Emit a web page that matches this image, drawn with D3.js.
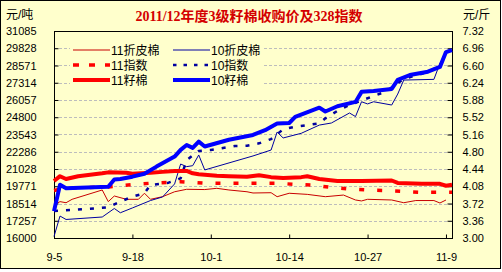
<!DOCTYPE html>
<html>
<head>
<meta charset="utf-8">
<script src="https://cdn.jsdelivr.net/npm/d3@7"></script>
<style>
  body { margin: 0; background: #fff; }
  text { font-family: "Liberation Sans", "Noto Sans CJK SC", sans-serif; }
</style>
</head>
<body>
<svg width="502" height="272"></svg>
<script>

// 元/吨 (left axis) series, [date, value]
const lint11 = [["9-5",18410],["9-6",18650],["9-7",18570],["9-8",18820],["9-13",19500],["9-14",18650],["9-15",19060],["9-17",18820],["9-19",18820],["9-20",19260],["9-21",18820],["9-23",19010],["9-25",19370],["9-27",19550],["9-30",19530],["10-2",19620],["10-4",19500],["10-7",19370],["10-8",19280],["10-11",19300],["10-12",19010],["10-14",19260],["10-17",19180],["10-20",19010],["10-23",19130],["10-25",18770],["10-26",18700],["10-27",18820],["10-31",18770],["11-2",18570],["11-4",18730],["11-7",18730],["11-8",18550],["11-9",18770]];
const lint10 = [["9-5",16110],["9-6",17600],["9-7",17350],["9-13",17530],["9-15",18150],["9-16",17840],["9-18",18190],["9-21",18730],["9-23",18990],["9-25",19940],["9-26",21390],["9-27",21200],["9-28",21270],["9-29",22050],["9-30",20960],["10-8",21980],["10-11",22410],["10-12",23720],["10-13",23290],["10-16",23630],["10-19",24230],["10-21",24380],["10-24",25110],["10-25",24850],["10-26",25930],["10-27",25770],["10-28",25930],["10-31",25690],["11-1",26490],["11-2",27510],["11-7",27560],["11-8",28730],["11-9",29460],["11-10",29700]];
const index11 = [["9-5",19460],["9-7",19640],["9-14",19720],["9-18",19900],["9-21",19990],["9-26",20100],["9-30",19990],["10-12",19990],["10-15",19910],["10-18",19860],["10-21",19680],["10-24",19570],["10-27",19500],["10-30",19460],["11-2",19390],["11-5",19330],["11-10",19330]];
const index10 = [["9-5",17970],["9-8",18040],["9-12",18160],["9-14",18240],["9-16",18650],["9-18",19010],["9-20",19260],["9-21",19860],["9-24",20030],["9-26",20350],["9-27",21680],["9-29",22340],["10-1",22410],["10-5",22700],["10-7",22730],["10-9",22900],["10-11",23210],["10-13",23920],["10-15",24110],["10-17",24230],["10-19",24360],["10-20",24720],["10-22",25260],["10-24",25690],["10-28",26350],["10-30",26660],["11-2",27590],["11-6",28100],["11-8",28530],["11-9",29550],["11-10",29700]];

// 元/斤 (right axis) series
const seed11 = [["9-5",4.19],["9-6",4.29],["9-7",4.23],["9-9",4.29],["9-13",4.35],["9-14",4.37],["9-17",4.36],["9-18",4.34],["9-21",4.36],["9-23",4.38],["9-25",4.40],["9-27",4.40],["9-28",4.35],["9-29",4.33],["10-2",4.30],["10-4",4.29],["10-7",4.28],["10-9",4.31],["10-11",4.27],["10-13",4.25],["10-16",4.27],["10-17",4.29],["10-19",4.23],["10-22",4.19],["10-26",4.19],["10-31",4.20],["11-1",4.15],["11-5",4.13],["11-8",4.13],["11-9",4.09],["11-10",4.11]];
const seed10 = [["9-5",3.56],["9-6",4.11],["9-7",4.04],["9-14",4.07],["9-15",4.22],["9-16",4.23],["9-18",4.28],["9-20",4.34],["9-22",4.49],["9-25",4.70],["9-26",4.84],["9-27",4.94],["9-28",4.88],["9-29",5.01],["9-30",4.91],["10-4",5.05],["10-8",5.15],["10-10",5.25],["10-12",5.39],["10-14",5.40],["10-15",5.53],["10-19",5.72],["10-20",5.64],["10-22",5.75],["10-25",5.84],["10-26",6.05],["10-28",6.07],["10-31",6.11],["11-1",6.30],["11-3",6.40],["11-6",6.47],["11-8",6.57],["11-9",6.88],["11-10",6.92]];

const leftTicks = ["16000","17257","18514","19771","21028","22286","23543","24800","26057","27314","28571","29828","31085"];
const rightTicks = ["3.00","3.36","3.72","4.08","4.44","4.80","5.16","5.52","5.88","6.24","6.60","6.96","7.32"];
const dateTicks = ["9-5","9-18","10-1","10-14","10-27","11-9"];

const parse = s => { const [m, d] = s.split('-'); return new Date(2011, +m - 1, +d); };

const svg = d3.select('svg');
const pLeft = 54, pRight = 452, pTop = 31, pBottom = 238;

// background + outer frame
svg.append('rect')
    .attr('x', 0.5).attr('y', 0.5).attr('width', 500).attr('height', 268)
    .attr('fill', '#ffffcc').attr('stroke', '#000');

const x = d3.scaleTime().domain([parse('9-5'), parse('11-10')]).range([pLeft, pRight]);
const yL = d3.scaleLinear().domain([16000, 31085]).range([pBottom, pTop]);
const yR = d3.scaleLinear().domain([3, 7.32]).range([pBottom, pTop]);

// gridlines
svg.append('g').selectAll('line')
    .data(leftTicks.slice(1, -1))
    .enter().append('line')
        .attr('x1', pLeft).attr('x2', pRight)
        .attr('y1', d => Math.round(yL(+d)) + 0.5)
        .attr('y2', d => Math.round(yL(+d)) + 0.5)
        .attr('stroke', '#bdbdbd').attr('stroke-dasharray', '3,2');

// axes
const gl = svg.append('g').attr('transform', `translate(${pLeft + 0.5},0)`)
    .call(d3.axisLeft(yL).tickValues(leftTicks.map(Number)).tickFormat((d, i) => leftTicks[i]).tickSize(-4).tickPadding(18));
const gr = svg.append('g').attr('transform', `translate(${pRight + 0.5},0)`)
    .call(d3.axisRight(yR).tickValues(rightTicks.map(Number)).tickFormat((d, i) => rightTicks[i]).tickSize(-5).tickPadding(10));
const gb = svg.append('g').attr('transform', `translate(0,${pBottom + 0.5})`)
    .call(d3.axisBottom(x).tickValues(dateTicks.map(parse)).tickFormat((d, i) => dateTicks[i]).tickSize(-4).tickPadding(15));

[gl, gr, gb].forEach(g => {
    g.select('.domain').remove();
    g.selectAll('text').attr('font-size', 11).attr('fill', '#000')
        .style('font-family', '"Liberation Sans", sans-serif');
    g.selectAll('line').attr('stroke', '#000');
});

// plot frame
svg.append('rect')
    .attr('x', pLeft + 0.5).attr('y', pTop + 0.5)
    .attr('width', pRight - pLeft).attr('height', pBottom - pTop)
    .attr('fill', 'none').attr('stroke', '#000');

// series
const series = [
    {name: '11折皮棉', data: lint11, y: yL, stroke: '#c80000', width: 1, dash: null},
    {name: '10折皮棉', data: lint10, y: yL, stroke: '#0000a0', width: 1, dash: null},
    {name: '11指数', data: index11, y: yL, stroke: '#ff0000', width: 3.5, dash: '5,13'},
    {name: '10指数', data: index10, y: yL, stroke: '#0000a0', width: 2.5, dash: '4,8'},
    {name: '11籽棉', data: seed11, y: yR, stroke: '#ff0000', width: 4, dash: null},
    {name: '10籽棉', data: seed10, y: yR, stroke: '#0000ff', width: 4, dash: null}
];

series.forEach(s => {
    const line = d3.line().x(d => x(parse(d[0]))).y(d => s.y(d[1]));
    svg.append('path')
        .attr('d', line(s.data))
        .attr('fill', 'none')
        .attr('stroke', s.stroke)
        .attr('stroke-width', s.width)
        .attr('stroke-linejoin', 'round')
        .attr('stroke-dasharray', s.dash);
});

// legend
const legend = svg.append('g');
legend.append('rect')
    .attr('x', 70).attr('y', 40).attr('width', 193).attr('height', 49)
    .attr('fill', '#ffffcc');

const items = legend.selectAll('g')
    .data(series)
    .enter().append('g')
        .attr('transform', (d, i) => `translate(${73 + (i % 2) * 100},${50 + Math.floor(i / 2) * 15})`);

items.append('line')
    .attr('x1', 0).attr('x2', 37)
    .attr('stroke', d => d.stroke)
    .attr('stroke-width', d => d.width)
    .attr('stroke-dasharray', d => d.dash === '5,13' ? '6,10' : d.dash === '4,8' ? '3.5,7' : null);

items.append('text')
    .attr('x', 38).attr('y', 4.5)
    .attr('font-size', 12)
    .text(d => d.name);

// titles
svg.append('text')
    .attr('x', 249).attr('y', 21)
    .attr('text-anchor', 'middle')
    .attr('font-size', 14).attr('font-weight', 'bold')
    .attr('fill', '#d40000')
    .style('font-family', '"Liberation Serif", "Noto Sans CJK SC", serif')
    .text('2011/12年度3级籽棉收购价及328指数');

svg.append('text').attr('x', 6).attr('y', 19).attr('font-size', 12).text('元/吨');
svg.append('text').attr('x', 463).attr('y', 19).attr('font-size', 12).text('元/斤');

</script>
</body>
</html>
